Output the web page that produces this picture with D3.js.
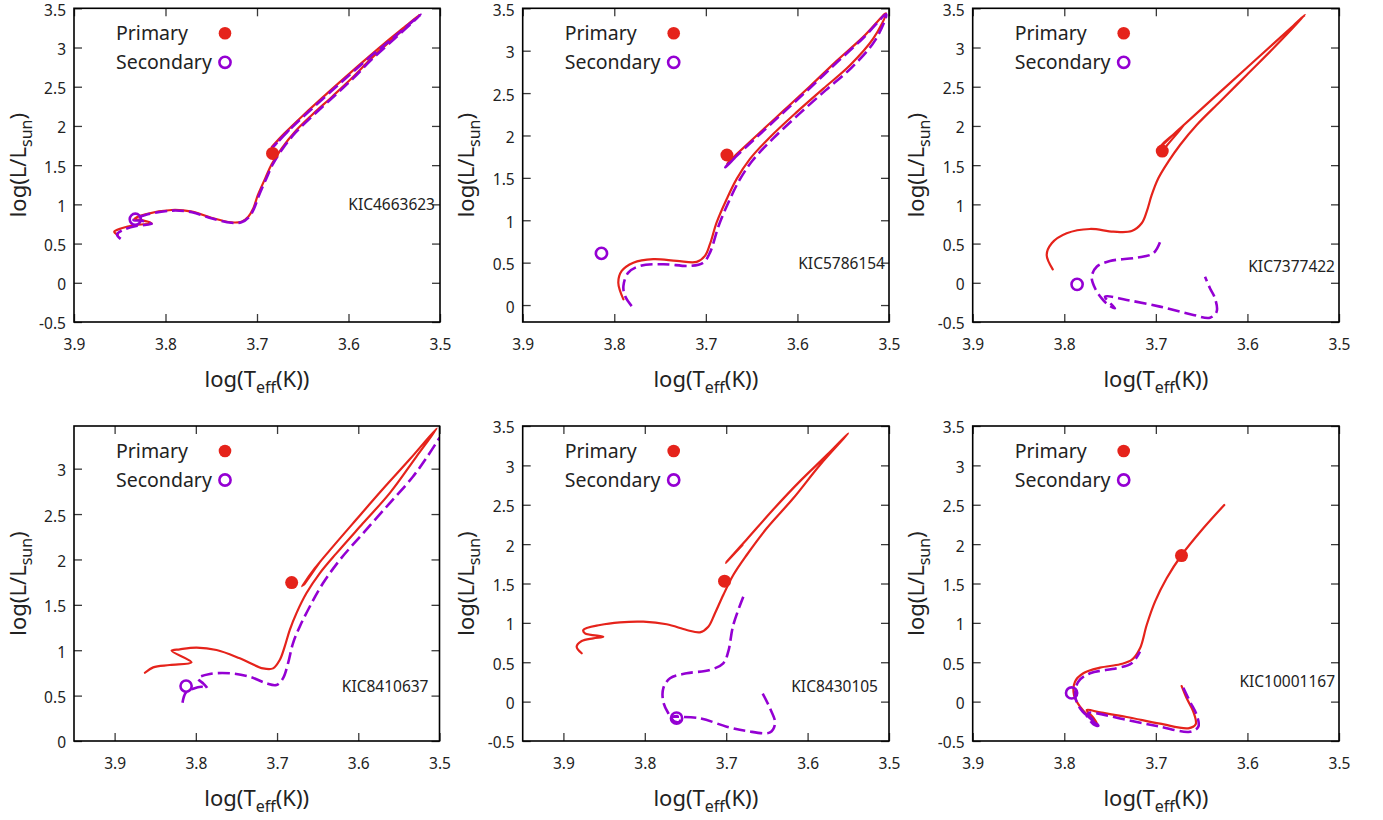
<!DOCTYPE html>
<html>
<head>
<meta charset="utf-8">
<script src="https://cdn.jsdelivr.net/npm/d3@7"></script>
<style>
  html, body { margin: 0; padding: 0; background: #fff; }
  svg { display: block; font-family: "Noto Sans", "Open Sans", sans-serif; }
</style>
</head>
<body>
<svg id="chart" width="1383" height="820"></svg>
<script>
// ---- Data: evolutionary tracks in the HR diagram, [log Teff, log L/Lsun] ----
const xTicks = [3.9, 3.8, 3.7, 3.6, 3.5];
const yTicks = [-0.5, 0, 0.5, 1, 1.5, 2, 2.5, 3, 3.5];
const starNames = ["KIC4663623", "KIC5786154", "KIC7377422", "KIC8410637", "KIC8430105", "KIC10001167"];
const legendLabels = ["Primary", "Secondary"];

// observed positions of the two components
const primaryObs = [[3.683, 1.65], [3.677, 1.77], [3.693, 1.68], [3.682, 1.745], [3.702, 1.53], [3.672, 1.855]];
const secondaryObs = [[3.833, 0.81], [3.814, 0.61], [3.786, -0.02], [3.812, 0.605], [3.761, -0.21], [3.792, 0.11]];

const primaryTrack1 = [[3.852,0.61],[3.856,0.652],[3.848,0.695],[3.833,0.737],[3.815,0.759],[3.826,0.80],[3.834,0.815],[3.822,0.873],[3.793,0.928],[3.771,0.907],[3.750,0.83],[3.728,0.771],[3.717,0.779],[3.7095,0.843],[3.704,0.95],[3.699,1.12],[3.691,1.332],[3.684,1.511],[3.673,1.715],[3.6585,1.927],[3.640,2.14],[3.618,2.373],[3.5965,2.607],[3.575,2.862],[3.549,3.138],[3.522,3.42],[3.54,3.25],[3.56,3.06],[3.59,2.76],[3.62,2.45],[3.65,2.13],[3.67,1.905],[3.682,1.757],[3.684,1.73],[3.672,1.88],[3.6825,1.75]];
const secondaryTrack1 = [[3.849,0.56],[3.853,0.615],[3.846,0.675],[3.832,0.725],[3.815,0.75],[3.826,0.79],[3.835,0.80],[3.822,0.865],[3.793,0.92],[3.771,0.90],[3.750,0.822],[3.728,0.765],[3.717,0.772],[3.709,0.835],[3.7035,0.94],[3.698,1.11],[3.690,1.325],[3.683,1.505],[3.672,1.71],[3.6575,1.92],[3.639,2.13],[3.617,2.365],[3.5955,2.60],[3.574,2.855],[3.548,3.13],[3.521,3.42],[3.548,3.155],[3.577,2.875],[3.61,2.535],[3.646,2.155],[3.668,1.91],[3.681,1.75],[3.683,1.725],[3.664,1.96],[3.680,1.76]];

const primaryTrack2 = [[3.790,0.067],[3.7956,0.264],[3.7919,0.402],[3.7792,0.50],[3.7574,0.541],[3.7318,0.521],[3.710,0.509],[3.701,0.58],[3.6955,0.718],[3.6882,0.974],[3.6772,1.251],[3.6663,1.488],[3.6518,1.724],[3.630,1.98],[3.6008,2.276],[3.5717,2.553],[3.5426,2.828],[3.5171,3.144],[3.5033,3.44],[3.5281,3.163],[3.5571,2.88],[3.5863,2.58],[3.6154,2.29],[3.6445,2.0],[3.6663,1.78],[3.6755,1.684],[3.677,1.67],[3.664,1.80],[3.675,1.69]];
const secondaryTrack2 = [[3.781,-0.012],[3.7883,0.107],[3.790,0.225],[3.7847,0.382],[3.7719,0.462],[3.7465,0.482],[3.7173,0.462],[3.7028,0.50],[3.6955,0.619],[3.6855,0.95],[3.6745,1.23],[3.6635,1.47],[3.649,1.705],[3.627,1.96],[3.598,2.255],[3.569,2.535],[3.540,2.81],[3.515,3.125],[3.503,3.43],[3.5281,3.15],[3.5571,2.86],[3.5863,2.56],[3.6154,2.27],[3.6445,1.98],[3.6663,1.76],[3.6772,1.64],[3.679,1.625],[3.668,1.74],[3.677,1.64]];

const primaryTrack3 = [[3.8126,0.172],[3.8192,0.354],[3.8137,0.504],[3.7974,0.631],[3.7719,0.686],[3.7465,0.652],[3.7264,0.66],[3.7155,0.759],[3.710,0.907],[3.7045,1.12],[3.6973,1.332],[3.6864,1.544],[3.6736,1.757],[3.6554,2.012],[3.630,2.309],[3.6008,2.65],[3.5717,2.99],[3.5371,3.415],[3.55,3.278],[3.57,3.066],[3.60,2.749],[3.63,2.431],[3.66,2.113],[3.68,1.901],[3.6936,1.757],[3.697,1.70],[3.692,1.69],[3.688,1.75],[3.668,2.03],[3.6915,1.77]];
const secondaryTrack3 = [[3.6955,0.516],[3.7028,0.376],[3.721,0.32],[3.7501,0.278],[3.7646,0.205],[3.770,0.078],[3.7664,-0.07],[3.7591,-0.198],[3.7519,-0.283],[3.7446,-0.325],[3.7555,-0.177],[3.7318,-0.219],[3.6955,-0.304],[3.6591,-0.41],[3.6409,-0.445],[3.6336,-0.368],[3.6354,-0.198],[3.6409,-0.07],[3.6463,0.078]];

const primaryTrack4 = [[3.8627,0.752],[3.8525,0.811],[3.832,0.837],[3.8053,0.867],[3.8299,0.995],[3.8197,1.01],[3.7991,1.028],[3.7745,1.002],[3.7459,0.911],[3.7172,0.80],[3.7049,0.80],[3.6967,0.892],[3.6906,1.039],[3.6844,1.222],[3.6762,1.406],[3.6639,1.627],[3.6475,1.847],[3.627,2.067],[3.5943,2.398],[3.5615,2.728],[3.5286,3.131],[3.5033,3.444],[3.5369,3.10],[3.5697,2.775],[3.6024,2.44],[3.6352,2.10],[3.6537,1.90],[3.6681,1.718],[3.669,1.705],[3.646,1.985],[3.6665,1.725]];
const secondaryTrack4 = [[3.8164,0.422],[3.8123,0.532],[3.8033,0.576],[3.793,0.598],[3.7861,0.58],[3.7902,0.628],[3.7972,0.69],[3.7828,0.738],[3.7582,0.746],[3.7336,0.708],[3.7131,0.635],[3.7008,0.617],[3.6927,0.69],[3.6865,0.856],[3.6804,1.076],[3.6721,1.259],[3.6598,1.479],[3.6435,1.737],[3.6229,1.993],[3.5943,2.287],[3.5615,2.618],[3.5328,2.911],[3.516,3.12],[3.500,3.34]];

const primaryTrack5 = [[3.8775,0.614],[3.8837,0.698],[3.8775,0.77],[3.8633,0.804],[3.851,0.825],[3.8735,0.868],[3.8755,0.91],[3.855,0.973],[3.8305,1.007],[3.8018,1.015],[3.7731,0.982],[3.7485,0.91],[3.7322,0.88],[3.722,0.951],[3.7138,1.122],[3.7036,1.354],[3.6913,1.608],[3.6748,1.862],[3.6502,2.201],[3.6176,2.582],[3.5848,3.005],[3.550,3.407],[3.5765,3.13],[3.6093,2.80],[3.6422,2.44],[3.6748,2.06],[3.6994,1.777],[3.7005,1.765],[3.680,1.99],[3.699,1.78]];
const secondaryTrack5 = [[3.679,1.332],[3.6913,0.973],[3.6975,0.634],[3.7036,0.487],[3.7199,0.402],[3.7485,0.36],[3.769,0.296],[3.7773,0.169],[3.7773,-0.001],[3.7711,-0.148],[3.7629,-0.255],[3.757,-0.25],[3.757,-0.19],[3.766,-0.19],[3.7322,-0.212],[3.6994,-0.318],[3.6748,-0.373],[3.6462,-0.39],[3.640,-0.275],[3.6462,-0.085],[3.6564,0.126]];

const primaryTrack6 = [[3.6718,0.198],[3.6663,0.042],[3.6591,-0.128],[3.6565,-0.288],[3.6646,-0.339],[3.6955,-0.28],[3.7318,-0.195],[3.761,-0.136],[3.7755,-0.106],[3.7683,-0.204],[3.764,-0.288],[3.7719,-0.204],[3.7828,-0.064],[3.7894,0.084],[3.7883,0.253],[3.7792,0.36],[3.761,0.431],[3.7391,0.474],[3.7264,0.529],[3.7173,0.677],[3.710,0.973],[3.7009,1.269],[3.6882,1.566],[3.6718,1.862],[3.6482,2.201],[3.6253,2.497]];
const secondaryTrack6 = [[3.670,0.177],[3.6627,-0.001],[3.6554,-0.17],[3.6536,-0.318],[3.6627,-0.382],[3.6955,-0.318],[3.7318,-0.233],[3.7738,-0.148],[3.7628,-0.306],[3.768,-0.29],[3.776,-0.17],[3.7628,-0.306],[3.7719,-0.212],[3.7828,-0.085],[3.7883,0.084],[3.7847,0.253],[3.7719,0.36],[3.7428,0.424],[3.7264,0.487],[3.7173,0.634]];

const primaryTracks = [primaryTrack1, primaryTrack2, primaryTrack3, primaryTrack4, primaryTrack5, primaryTrack6];
const secondaryTracks = [secondaryTrack1, secondaryTrack2, secondaryTrack3, secondaryTrack4, secondaryTrack5, secondaryTrack6];

// ---- Layout of the six panels (plot-area boxes and axis ranges) ----
const panels = [
  { left: 74,    top: 8.3, width: 366,   height: 313.7, xDom: [3.9, 3.5],  yDom: [-0.5, 3.5], labelFrac: 0.373, labelInset: 5 },
  { left: 522.7, top: 8.3, width: 366.3, height: 313.7, xDom: [3.9, 3.5],  yDom: [-0.2, 3.5], labelFrac: 0.187, labelInset: 4 },
  { left: 972.7, top: 8.3, width: 366.3, height: 313.7, xDom: [3.9, 3.5],  yDom: [-0.5, 3.5], labelFrac: 0.176, labelInset: 4 },
  { left: 74,    top: 426, width: 365.5, height: 315,   xDom: [3.95, 3.5], yDom: [0, 3.47],   labelFrac: 0.172, labelInset: 11 },
  { left: 522.7, top: 426, width: 366.3, height: 315,   xDom: [3.95, 3.5], yDom: [-0.5, 3.5], labelFrac: 0.174, labelInset: 11 },
  { left: 972.7, top: 426, width: 366.3, height: 315,   xDom: [3.9, 3.5],  yDom: [-0.5, 3.5], labelFrac: 0.188, labelInset: 4 }
];

const RED = "#e5231b";
const VIOLET = "#9400d3";
const TICK = 8;

const svg = d3.select("#chart");
const inRange = (v, dom) => v >= Math.min(...dom) - 1e-9 && v <= Math.max(...dom) + 1e-9;

panels.forEach((p, i) => {
  const g = svg.append("g").attr("transform", `translate(${p.left},${p.top})`);
  const x = d3.scaleLinear().domain(p.xDom).range([0, p.width]);
  const y = d3.scaleLinear().domain(p.yDom).range([p.height, 0]);

  const xt = xTicks.filter(v => inRange(v, p.xDom));
  const yt = yTicks.filter(v => inRange(v, p.yDom));

  // axes with inward ticks, mirrored on top and right
  const axisStyle = sel => {
    sel.select(".domain").remove();
    sel.selectAll(".tick line").attr("stroke", "#3a3a3a").attr("stroke-width", 1.3);
    sel.selectAll(".tick text").attr("fill", "#222").style("font-size", "15.5px")
      .style("font-family", "'Noto Sans','Open Sans',sans-serif");
  };
  g.append("g").attr("transform", `translate(0,${p.height})`)
    .call(d3.axisBottom(x).tickValues(xt).tickFormat(d => String(d)).tickSizeInner(-TICK).tickSizeOuter(0).tickPadding(17))
    .call(axisStyle);
  g.append("g")
    .call(d3.axisTop(x).tickValues(xt).tickFormat("").tickSizeInner(-TICK).tickSizeOuter(0))
    .call(axisStyle);
  g.append("g")
    .call(d3.axisLeft(y).tickValues(yt).tickFormat(d => String(d)).tickSizeInner(-TICK).tickSizeOuter(0).tickPadding(8))
    .call(axisStyle)
    .call(sel => sel.selectAll(".tick text").attr("dy", "0.45em"));
  g.append("g").attr("transform", `translate(${p.width},0)`)
    .call(d3.axisRight(y).tickValues(yt).tickFormat("").tickSizeInner(-TICK).tickSizeOuter(0))
    .call(axisStyle);

  // clip tracks to the plot box
  const clipId = "clip" + i;
  g.append("clipPath").attr("id", clipId).append("rect")
    .attr("width", p.width).attr("height", p.height);

  const line = d3.line()
    .x(d => x(d[0])).y(d => y(d[1]))
    .curve(d3.curveCatmullRom.alpha(0.5));

  const tracks = g.append("g").attr("clip-path", `url(#${clipId})`);
  tracks.append("path").datum(primaryTracks[i])
    .attr("d", line).attr("fill", "none").attr("stroke", RED)
    .attr("stroke-width", 2.2).attr("stroke-linejoin", "round").attr("stroke-linecap", "round");
  tracks.append("path").datum(secondaryTracks[i])
    .attr("d", line).attr("fill", "none").attr("stroke", VIOLET)
    .attr("stroke-width", 2.6).attr("stroke-dasharray", "12,5").attr("stroke-linejoin", "round");

  // observed components
  g.append("circle").attr("cx", x(primaryObs[i][0])).attr("cy", y(primaryObs[i][1]))
    .attr("r", 6.5).attr("fill", RED);
  g.append("circle").attr("cx", x(secondaryObs[i][0])).attr("cy", y(secondaryObs[i][1]))
    .attr("r", 5.6).attr("fill", "none").attr("stroke", VIOLET).attr("stroke-width", 2.6);

  // frame
  g.append("rect").attr("width", p.width).attr("height", p.height)
    .attr("fill", "none").attr("stroke", "#000").attr("stroke-width", 1.6);

  // legend
  const rows = [25, 54];
  legendLabels.forEach((lab, k) => {
    g.append("text").attr("x", 42).attr("y", rows[k]).attr("dy", "0.35em")
      .attr("fill", "#222").style("font-size", "19.5px").text(lab);
  });
  g.append("circle").attr("cx", 151).attr("cy", rows[0]).attr("r", 6.3).attr("fill", RED);
  g.append("circle").attr("cx", 151).attr("cy", rows[1]).attr("r", 5.6)
    .attr("fill", "none").attr("stroke", VIOLET).attr("stroke-width", 2.6);

  // star name
  g.append("text").attr("x", p.width - p.labelInset).attr("y", p.height * (1 - p.labelFrac))
    .attr("dy", "0.35em").attr("text-anchor", "end").attr("fill", "#222")
    .style("font-size", "15.5px").text(starNames[i]);

  // axis titles
  const xt2 = g.append("text").attr("x", p.width / 2).attr("y", p.height + 65)
    .attr("text-anchor", "middle").attr("fill", "#222").style("font-size", "22px");
  xt2.append("tspan").text("log(T");
  xt2.append("tspan").attr("dy", 6).style("font-size", "16px").text("eff");
  xt2.append("tspan").attr("dy", -6).text("(K))");

  const yt2 = g.append("text")
    .attr("transform", `translate(${-56},${p.height / 2}) rotate(-90)`)
    .attr("text-anchor", "middle").attr("dy", "0.35em").attr("fill", "#222").style("font-size", "22px");
  yt2.append("tspan").text("log(L/L");
  yt2.append("tspan").attr("dy", 6).style("font-size", "16px").text("sun");
  yt2.append("tspan").attr("dy", -6).text(")");
});
</script>
</body>
</html>
